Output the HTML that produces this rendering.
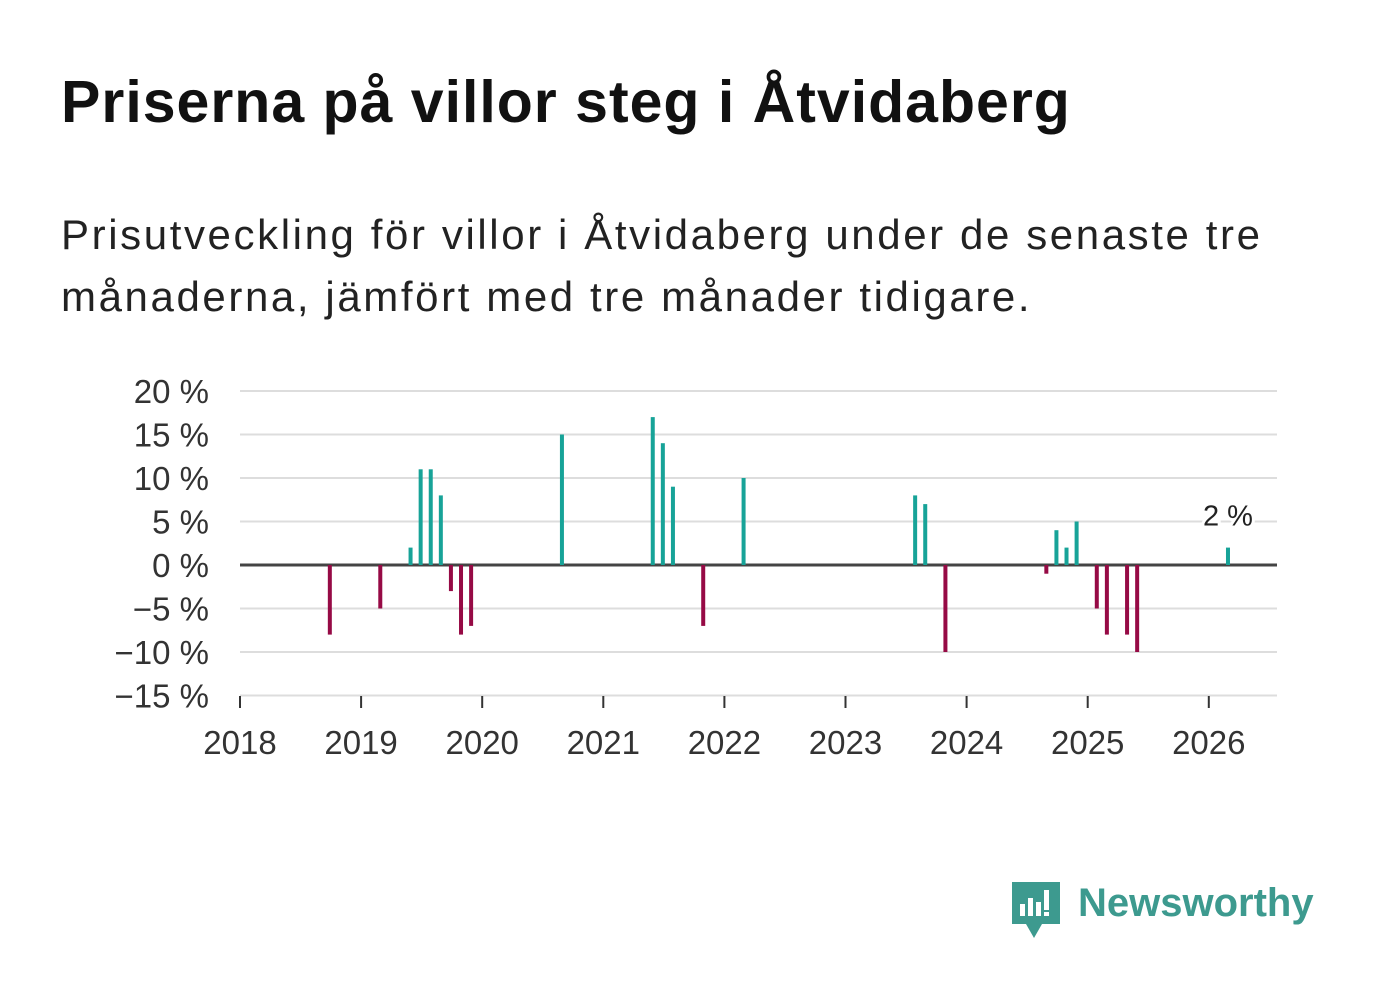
<!DOCTYPE html>
<html><head><meta charset="utf-8"><style>
body{margin:0;width:1382px;height:999px;background:#fff;font-family:"Liberation Sans",sans-serif;overflow:hidden;position:relative}
h1{position:absolute;left:61px;top:68px;margin:0;font-size:59px;font-weight:bold;color:#111;letter-spacing:1px;white-space:nowrap}
p{position:absolute;left:61px;top:204px;margin:0;font-size:42px;line-height:62px;color:#222;width:1250px;letter-spacing:2.6px}
svg{position:absolute;left:0;top:0}
</style></head><body>
<h1>Priserna på villor steg i Åtvidaberg</h1>
<p>Prisutveckling för villor i Åtvidaberg under de senaste tre<br>månaderna, jämfört med tre månader tidigare.</p>
<svg id="chart" width="1382" height="999"></svg>
<div style="position:absolute;left:1012px;top:880px;width:320px;height:60px">
<svg width="50" height="60" style="position:absolute;left:0;top:0"><path d="M0 2h48v42H30l-8 14-8-14H0z" fill="#3d9a8f"/><rect x="8" y="24" width="5" height="12" fill="#fff"/><rect x="16" y="18" width="5" height="18" fill="#fff"/><rect x="24" y="22" width="5" height="14" fill="#fff"/><rect x="32" y="10" width="5" height="20" fill="#fff"/><rect x="32" y="32" width="5" height="4" fill="#fff"/></svg>
<span style="position:absolute;left:66px;top:1px;font-size:40px;font-weight:bold;color:#3d9a8f">Newsworthy</span></div>
<script>
const months=[9,14,17,18,19,20,21,22,23,32,41,42,43,46,50,67,68,70,80,81,82,83,85,86,88,89,98];
const values=[-8,-5,2,11,11,8,-3,-8,-7,15,17,14,9,-7,10,8,7,-10,-1,4,2,5,-5,-8,-8,-10,2];
const yTicks=[20,15,10,5,0,-5,-10,-15];
const years=[2018,2019,2020,2021,2022,2023,2024,2025,2026];
const ns="http://www.w3.org/2000/svg",svg=document.getElementById('chart');
const x=m=>240+m*121.1/12-1, y=v=>565-v*8.7;
function el(t,a,txt){const e=document.createElementNS(ns,t);for(const k in a)e.setAttribute(k,a[k]);if(txt!=null)e.textContent=txt;svg.appendChild(e);return e;}
yTicks.forEach(v=>{
 const g=el('line',{x1:240,x2:1277,y1:y(v),y2:y(v),stroke:v==0?'#444':'#ddd','stroke-width':v==0?3:2});
 
 
 const t=el('text',{x:209,y:y(v)+12,'text-anchor':'end','font-size':33,fill:'#333','font-family':'Liberation Sans'},(v<0?'−'+(-v):v)+' %');
 
 
});
years.forEach((yr,i)=>{
 const xx=240+i*121.1;
 const tk=el('line',{x1:xx,x2:xx,y1:696,y2:708,stroke:'#333','stroke-width':2});
 
 
 const t=el('text',{x:xx,y:754,'text-anchor':'middle','font-size':33,fill:'#333','font-family':'Liberation Sans'},yr);
 
 
});
months.forEach((m,i)=>{
 const v=values[i];
 const r=el('rect',{x:x(m)-2,y:Math.min(y(v),565),width:4,height:Math.abs(y(v)-565),fill:v>=0?'#17a398':'#960a45'});
 
 
});
const li=months.length-1;
const lbl=el('text',{x:x(months[li]),y:y(values[li])-22,'text-anchor':'middle','font-size':29,fill:'#222',stroke:'#fff','stroke-width':6,'paint-order':'stroke','font-family':'Liberation Sans'},values[li]+' %');


</script>
</body></html>
